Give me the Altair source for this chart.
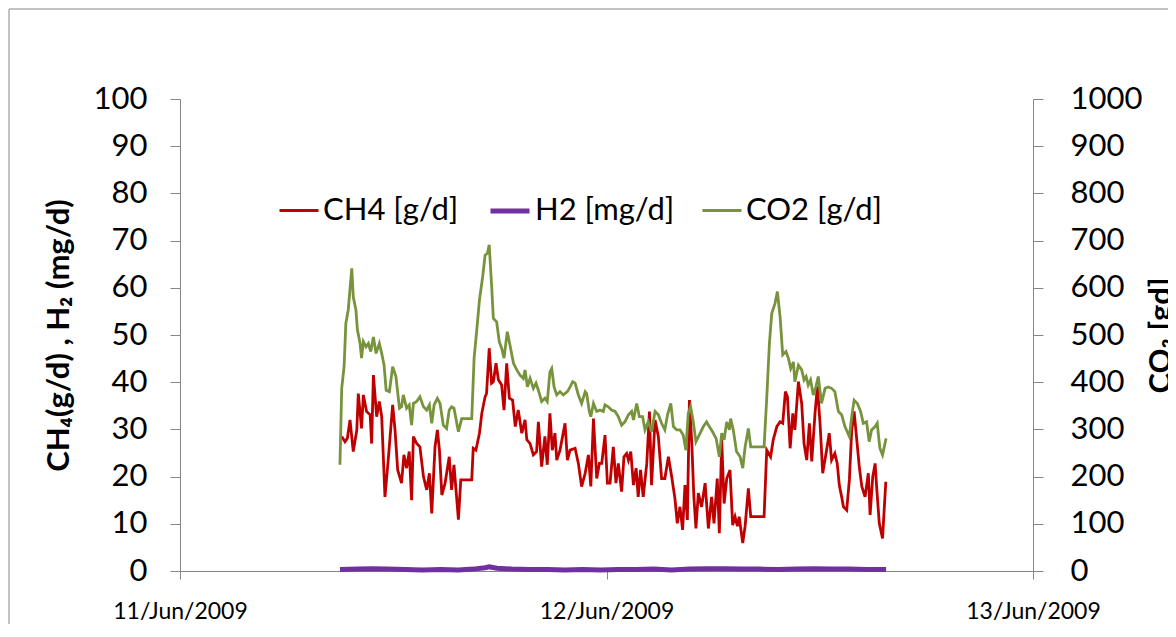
import altair as alt
import pandas as pd

# ---- data (minutes after 11 Jun 2009 00:00, values) ----
ch4_minutes = [546, 557, 565, 574, 585, 597, 602, 613, 619, 630,
               642, 647, 653, 664, 673, 681, 692, 703, 718, 726,
               735, 748, 756, 765, 774, 782, 788, 799, 810, 822,
               833, 842, 850, 861, 869, 876, 884, 895, 909, 917,
               925, 940, 948, 985, 990, 999, 1011, 1019, 1030, 1035,
               1044, 1052, 1058, 1067, 1075, 1086, 1094, 1103, 1112, 1123,
               1132, 1142, 1154, 1165, 1171, 1182, 1193, 1204, 1210, 1221,
               1232, 1240, 1249, 1257, 1266, 1272, 1283, 1300, 1308, 1317,
               1334, 1345, 1356, 1368, 1379, 1387, 1396, 1407, 1416,
               1424, 1435, 1443, 1452, 1463, 1472, 1480, 1491, 1499, 1508,
               1514, 1522, 1531, 1540, 1547, 1555, 1564, 1576, 1585, 1592,
               1604, 1615, 1626, 1637, 1649, 1660, 1671, 1679, 1688, 1697,
               1705, 1713, 1720, 1728, 1735, 1742, 1750, 1761, 1773, 1784,
               1795, 1803, 1814, 1821, 1829, 1837, 1846, 1857, 1866, 1874,
               1882, 1888, 1900, 1908, 1919, 1927, 1972, 1981, 1994, 2003,
               2015, 2026, 2035, 2044, 2051, 2060, 2069, 2076, 2088, 2099,
               2107, 2116, 2125, 2133, 2144, 2152, 2161, 2170, 2183, 2192,
               2200, 2211, 2219, 2226, 2234, 2240, 2251, 2260, 2268, 2276,
               2285, 2294, 2302, 2313, 2324, 2330, 2339, 2347, 2352, 2361,
               2372, 2383]
ch4_values = [28.5, 27.4, 28.1, 32.0, 25.3, 29.9, 37.6, 30.2, 37.3, 33.8,
              33.1, 27.0, 41.5, 32.7, 35.9, 32.7, 15.7, 23.5, 35.2, 29.9,
              21.4, 18.6, 24.6, 21.8, 25.3, 15.0, 28.5, 27.0, 26.3, 20.0,
              17.2, 20.7, 12.2, 26.3, 29.9, 25.6, 16.1, 18.6, 24.2, 17.2,
              22.5, 10.9, 19.3, 19.3, 26.0, 25.6, 29.2, 33.4, 36.9, 37.6,
              47.2, 39.8, 40.1, 44.0, 40.5, 39.4, 34.1, 44.0, 36.6, 36.2,
              30.6, 34.1, 29.2, 32.0, 27.8, 27.0, 24.6, 25.3, 31.6, 22.1,
              28.5, 22.5, 33.4, 25.6, 29.2, 23.5, 25.6, 31.3, 23.5, 25.6,
              26.0, 22.8, 17.9, 20.7, 24.6, 17.9, 32.3, 19.6, 22.8,
              22.8, 28.8, 18.6, 18.6, 26.3, 18.6, 22.8, 16.8, 24.2, 24.9,
              23.5, 25.3, 18.2, 21.8, 15.7, 21.4, 15.7, 22.8, 33.8, 18.2,
              32.0, 28.5, 19.6, 19.6, 24.2, 20.0, 15.4, 10.1, 13.6, 8.7,
              18.2, 10.8, 36.2, 27.0, 15.7, 9.0, 16.5, 13.6, 18.6, 9.0,
              15.7, 10.1, 19.6, 8.0, 27.8, 14.3, 19.6, 21.4, 9.7, 11.5,
              9.5, 11.5, 5.9, 9.5, 17.5, 11.5, 11.5, 25.6, 24.2, 27.8,
              30.6, 31.6, 31.3, 38.0, 36.9, 26.0, 33.4, 29.9, 40.1, 35.5,
              27.0, 23.5, 31.3, 23.2, 33.4, 39.1, 31.3, 20.7, 25.6, 29.2,
              23.5, 24.9, 22.8, 18.2, 15.7, 13.6, 12.9, 19.3, 29.9, 33.8,
              27.8, 21.8, 17.9, 15.7, 20.7, 11.9, 20.0, 22.8, 17.9, 10.1,
              6.9, 18.9]

co2_minutes = [540, 546, 554, 560, 568, 580, 585, 594, 599, 608,
               613, 619, 628, 636, 644, 653, 662, 673, 681, 689,
               696, 707, 718, 729, 741, 748, 754, 765, 774, 782,
               788, 799, 810, 822, 833, 842, 850, 858, 869, 878,
               889, 900, 909, 917, 925, 940, 951, 985, 993, 1002,
               1011, 1022, 1030, 1038, 1044, 1052, 1058, 1069, 1078, 1086,
               1094, 1105, 1114, 1126, 1137, 1148, 1159, 1165, 1173, 1182,
               1193, 1202, 1210, 1221, 1232, 1240, 1249, 1255, 1263, 1272,
               1283, 1294, 1308, 1317, 1326, 1334, 1345, 1356, 1368, 1373,
               1382, 1387, 1396, 1407,
               1418, 1429, 1435, 1446, 1457, 1469, 1480, 1491, 1502, 1514,
               1525, 1531, 1542, 1551, 1562, 1570, 1581, 1592, 1604, 1615,
               1626, 1637, 1646, 1657, 1666, 1677, 1688, 1699, 1708, 1716,
               1724, 1733, 1742, 1753, 1767, 1778, 1787, 1798, 1810, 1821,
               1829, 1837, 1846, 1855, 1859, 1868, 1879, 1891, 1900, 1908,
               1919, 1927, 1972, 1981, 1990, 1998, 2009, 2017, 2026, 2035,
               2046, 2054, 2062, 2071, 2076, 2088, 2099, 2107, 2114, 2121,
               2129, 2138, 2147, 2155, 2166, 2178, 2189, 2200, 2211, 2223,
               2234, 2245, 2260, 2268, 2276, 2287, 2298, 2307, 2318, 2327,
               2335, 2347, 2354, 2363, 2372, 2384]
co2_values = [225, 387, 433, 525, 553, 641, 581, 553, 511, 482,
              451, 486, 475, 482, 465, 496, 461, 482, 461, 436,
              383, 380, 433, 412, 345, 348, 373, 345, 352, 309,
              355, 359, 369, 348, 341, 352, 313, 352, 366, 355,
              309, 302, 341, 348, 345, 295, 323, 323, 451, 511,
              574, 624, 669, 673, 691, 606, 535, 528, 486, 472,
              451, 507, 479, 440, 426, 415, 408, 426, 390, 408,
              387, 398, 383, 359, 366, 359, 422, 429, 390, 373,
              380, 373, 380, 390, 401, 398, 373, 355, 380, 376,
              338, 327, 355, 338,
              341, 338, 352, 348, 341, 338, 327, 309, 316, 331,
              338, 320, 355, 327, 327, 299, 316, 295, 338, 331,
              313, 299, 331, 355, 306, 299, 299, 288, 256, 334,
              348, 316, 274, 288, 306, 316, 306, 295, 281, 242,
              292, 278, 316, 299, 323, 299, 253, 242, 218, 263,
              302, 263, 263, 366, 482, 546, 567, 592, 539, 458,
              465, 451, 429, 443, 401, 436, 426, 405, 412, 394,
              405, 373, 390, 412, 355, 387, 390, 387, 380, 338,
              331, 306, 285, 327, 362, 355, 338, 313, 316, 274,
              299, 306, 313, 260, 246, 281]

h2_minutes = [540, 600, 650, 700, 760, 820, 880, 940, 990, 1030,
              1044, 1070, 1120, 1180, 1240, 1300, 1360, 1420, 1480, 1540,
              1600, 1660, 1720, 1780, 1840, 1900, 1960, 2020, 2080, 2140,
              2200, 2260, 2320, 2384]
h2_values = [0.3, 0.4, 0.5, 0.4, 0.3, 0.2, 0.3, 0.2, 0.4, 0.7,
             0.9, 0.6, 0.4, 0.3, 0.3, 0.2, 0.3, 0.2, 0.3, 0.3,
             0.4, 0.2, 0.4, 0.5, 0.5, 0.4, 0.4, 0.3, 0.4, 0.5,
             0.4, 0.4, 0.3, 0.3]

series_names = ["CH4 [g/d]", "H2 [mg/d]", "CO2 [g/d]"]
series_colors = ["#C00000", "#7030A0", "#77933C"]
series_widths = [2.8, 5, 2.8]

x_tick_dates = [(2009, 6, 11), (2009, 6, 12), (2009, 6, 13)]
left_ticks = list(range(0, 101, 10))
right_ticks = list(range(0, 1001, 100))

start = pd.Timestamp("2009-06-11 00:00")


def frame(mins, vals, name):
    return pd.DataFrame({
        "time": [start + pd.Timedelta(minutes=m) for m in mins],
        "value": vals,
        "series": name,
    })


left_df = pd.concat([frame(ch4_minutes, ch4_values, series_names[0]),
                     frame(h2_minutes, h2_values, series_names[1])],
                    ignore_index=True)
right_df = frame(co2_minutes, co2_values, series_names[2])

FONT = "Lato"
GREY = "#868686"

x_dates = [alt.DateTime(year=y, month=m, date=d) for (y, m, d) in x_tick_dates]

x_enc = alt.X(
    "time:T",
    scale=alt.Scale(domain=[x_dates[0], x_dates[-1]], nice=False),
    axis=alt.Axis(values=x_dates, format="%d/%b/%Y", title=None, grid=False,
                  labelFont=FONT, labelFontSize=23, labelColor="black",
                  tickSize=8, labelPadding=21, labelFlush=False,
                  domainColor=GREY, tickColor=GREY),
)

legend_def = alt.Legend(title=None, orient="none", legendX=98, legendY=90,
                        direction="horizontal", symbolType="stroke",
                        symbolSize=1521, labelFont=FONT, labelFontSize=31,
                        labelColor="black", labelOffset=3, columnPadding=21,
                        padding=0)

color_enc = alt.Color(
    "series:N",
    scale=alt.Scale(domain=series_names, range=series_colors),
    legend=legend_def,
)
width_enc = alt.StrokeWidth(
    "series:N",
    scale=alt.Scale(type="ordinal", domain=series_names, range=series_widths),
    legend=legend_def,
)

left = alt.Chart(left_df).mark_line().encode(
    x=x_enc,
    y=alt.Y("value:Q", scale=alt.Scale(domain=[0, 100], nice=False),
            axis=alt.Axis(values=left_ticks, format="d",
                          title="CH₄(g/d) , H₂ (mg/d)",
                          grid=False, labelFont=FONT, labelFontSize=31,
                          labelColor="black", tickSize=10, labelPadding=23,
                          domainColor=GREY, tickColor=GREY,
                          titleFont=FONT, titleFontSize=31,
                          titleFontWeight="bold", titleColor="black",
                          titlePadding=18)),
    color=color_enc,
    strokeWidth=width_enc,
    detail="series:N",
)

right = alt.Chart(right_df).mark_line().encode(
    x=x_enc,
    y=alt.Y("value:Q", scale=alt.Scale(domain=[0, 1000], nice=False),
            axis=alt.Axis(orient="right", values=right_ticks, format="d",
                          title="CO₂ [gd]",
                          grid=False, labelFont=FONT, labelFontSize=31,
                          labelColor="black", tickSize=10, labelPadding=27,
                          domainColor=GREY, tickColor=GREY,
                          titleFont=FONT, titleFontSize=31,
                          titleFontWeight="bold", titleColor="black",
                          titleAngle=270, titleBaseline="top",
                          titlePadding=5)),
    color=color_enc,
    strokeWidth=width_enc,
)

frame_box = alt.Chart(pd.DataFrame({"k": [0]})).mark_rect(
    fillOpacity=0, stroke=GREY, strokeWidth=1
).encode(x=alt.value(-171), x2=alt.value(1300),
         y=alt.value(-90), y2=alt.value(900))

chart = alt.layer(left, right, frame_box).resolve_scale(
    y="independent"
).properties(
    width=853, height=472,
    autosize=alt.AutoSizeParams(type="none"),
    padding={"left": 172, "top": 91, "right": 135, "bottom": 53},
).configure_view(strokeWidth=0)

chart.save("out.html", embed_options={"renderer": "svg", "actions": False})
